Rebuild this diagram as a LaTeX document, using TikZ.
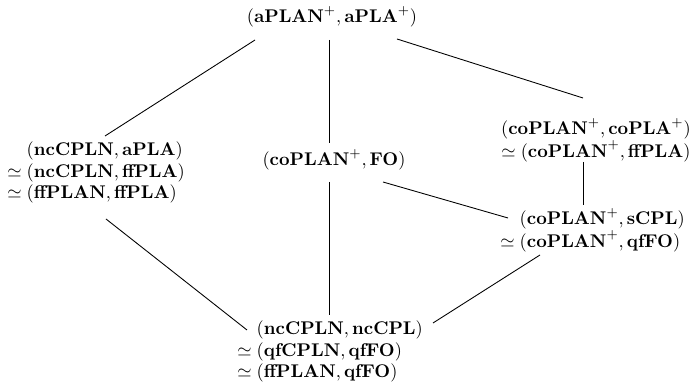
\documentclass[tikz,border=0pt]{standalone}
\usepackage{amsmath,amssymb,graphicx}
\usetikzlibrary{calc}
\newcommand\cbox[1]{\scalebox{1.05}{\renewcommand\arraystretch{0.97}\begin{tabular}{@{}c@{}}#1\end{tabular}}}
\newcommand\hangbox[1]{\scalebox{1.05}{\renewcommand\arraystretch{0.97}\begin{tabular}{@{}r@{$\;$}l@{}}#1\end{tabular}}}
\begin{document}
\begin{tikzpicture}[x=0.5714pt,y=-0.5714pt,
  lat/.style={align=center,inner sep=0pt},
  edge/.style={draw,line width=0.5pt}]
\useasboundingbox (0,0) rectangle (694,386);
\node[lat] (top) at (332,18) {\cbox{$(\mathbf{aPLAN}^+,\mathbf{aPLA}^+)$}};
\node[lat,anchor=west] (left) at (7,173) {\hangbox{& $(\mathbf{ncCPLN},\mathbf{aPLA})$\\$\simeq$ & $(\mathbf{ncCPLN},\mathbf{ffPLA})$\\$\simeq$ & $(\mathbf{ffPLAN},\mathbf{ffPLA})$}};
\node[lat] (mid) at (334,161) {\cbox{$(\mathbf{coPLAN}^+,\mathbf{FO})$}};
\node[lat] (rt) at (596,141) {\cbox{$(\mathbf{coPLAN}^+,\mathbf{coPLA}^+)$\\$\simeq(\mathbf{coPLAN}^+,\mathbf{ffPLA})$}};
\node[lat,anchor=west] (rb) at (500,231) {\hangbox{& $(\mathbf{coPLAN}^+,\mathbf{sCPL})$\\$\simeq$ & $(\mathbf{coPLAN}^+,\mathbf{qfFO})$}};
\node[lat,anchor=west] (bot) at (237,352) {\hangbox{& $(\mathbf{ncCPLN},\mathbf{ncCPL})$\\$\simeq$ & $(\mathbf{qfCPLN},\mathbf{qfFO})$\\$\simeq$ & $(\mathbf{ffPLAN},\mathbf{qfFO})$}};
\draw[edge] ($(top)+(-77,22)$) -- ($(left.west)+(98,-37)$);
\draw[edge] ($(top)+(-3,22)$) -- ($(mid)+(-5,-18)$);
\draw[edge] ($(top)+(65,21)$) -- ($(rt)+(-13,-43)$);
\draw[edge] ($(left.west)+(99,46)$) -- ($(bot.west)+(10,-22)$);
\draw[edge] ($(mid)+(-5,21)$) -- ($(bot.west)+(92,-37)$);
\draw[edge] ($(mid)+(49,21)$) -- ($(rb.west)+(8,-13)$);
\draw[edge] ($(rt)+(-13,21)$) -- ($(rb.west)+(83,-26)$);
\draw[edge] ($(rb.west)+(40,24)$) -- ($(bot.west)+(196,-29)$);
\end{tikzpicture}
\end{document}
